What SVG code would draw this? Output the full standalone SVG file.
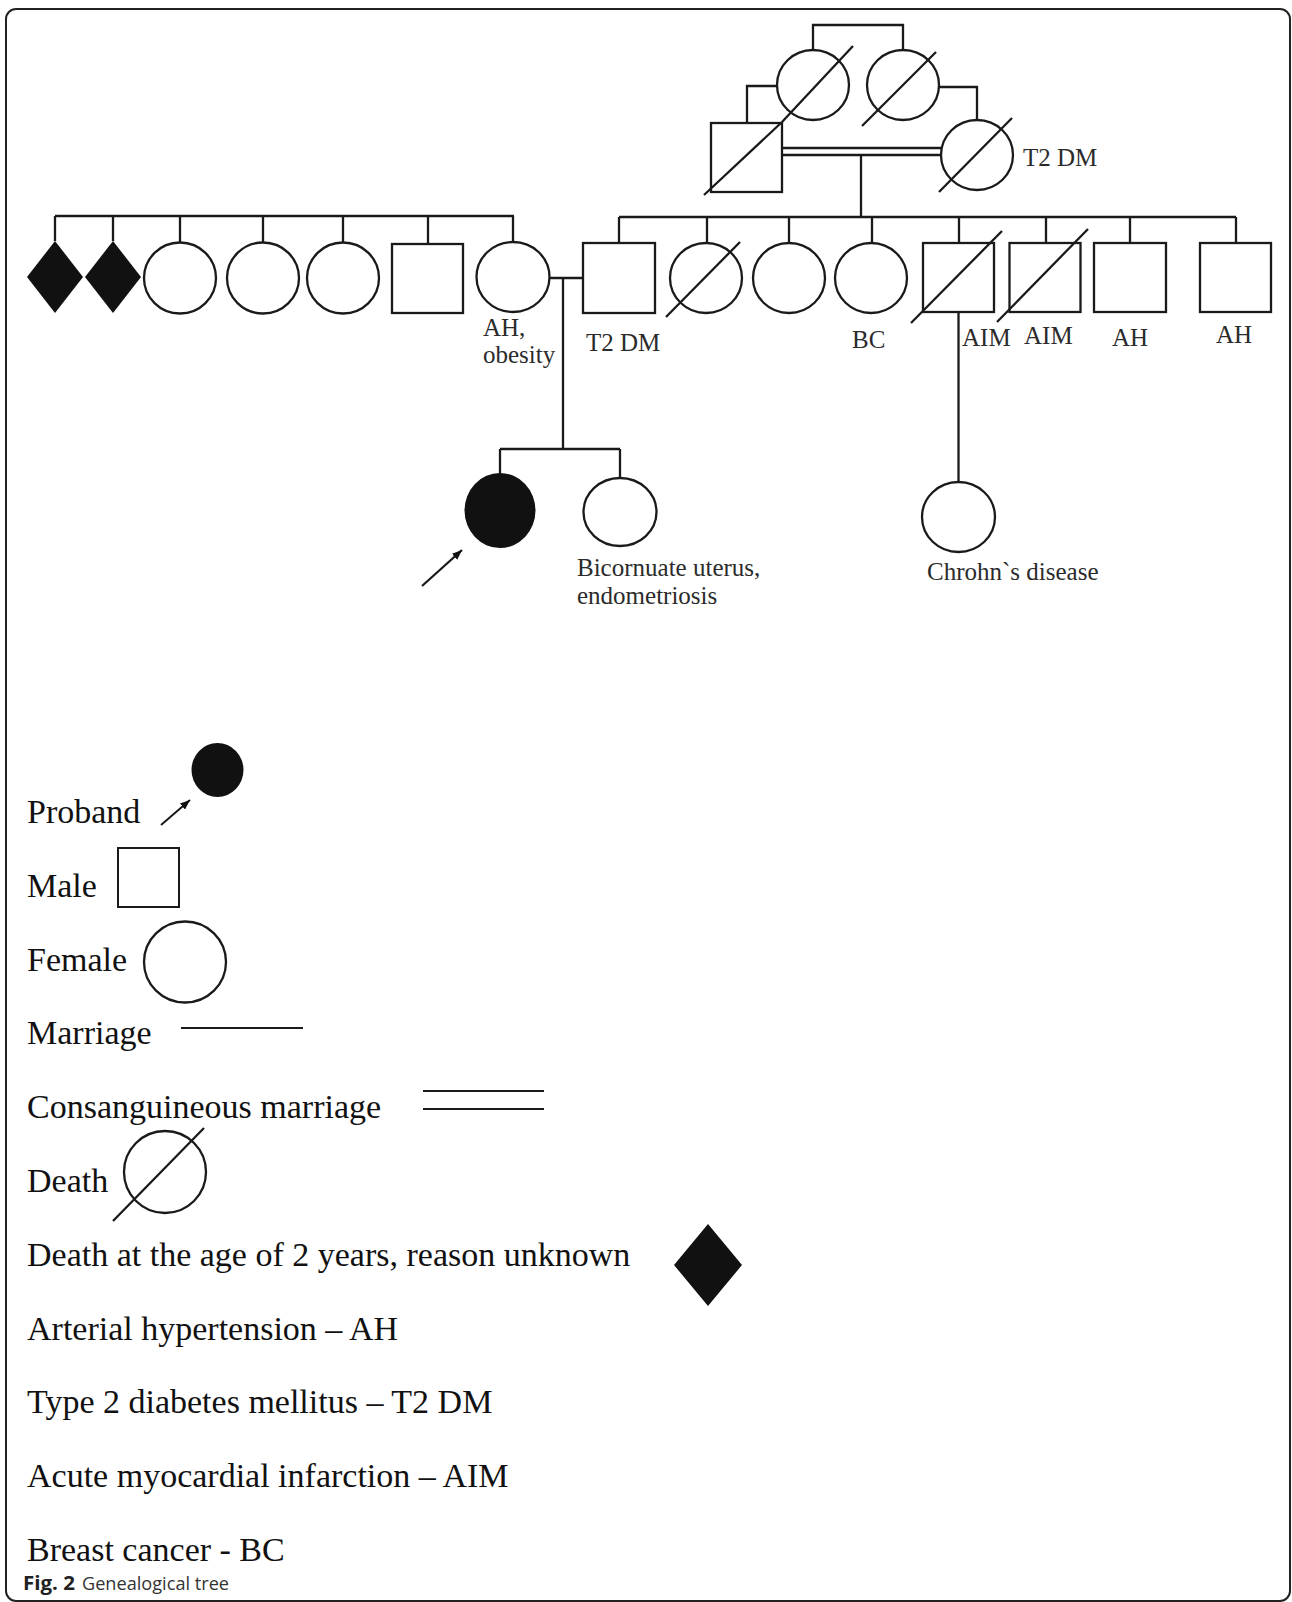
<svg xmlns="http://www.w3.org/2000/svg" width="1292" height="1602" viewBox="0 0 1292 1602">
<defs>
<style>
.ln{fill:none;stroke:#1a1a1a;stroke-width:2.3}
.nd{fill:#fff;stroke:#1a1a1a;stroke-width:2.3}
.fl{fill:#111;stroke:none}
.sl{stroke:#1a1a1a;stroke-width:2.3;fill:none}
.lb{font-family:"Liberation Serif","Times New Roman",serif;font-size:25px;fill:#2b2b2b}
.lg{font-family:"Liberation Serif","Times New Roman",serif;font-size:34px;fill:#111}
.lgl{fill:none;stroke:#1a1a1a;stroke-width:2}
</style>
<marker id="ah" markerUnits="userSpaceOnUse" markerWidth="12" markerHeight="10" refX="10" refY="4" orient="auto">
<path d="M0,0 L10,4 L0,8 Z" fill="#111"/>
</marker>
</defs>
<rect x="6" y="9" width="1284" height="1592" rx="10" fill="#fff" stroke="#222" stroke-width="2"/>

<g id="connectors">
<path class="ln" d="M813,50 V25 H903 V50"/>
<path class="ln" d="M777,86 H747 V123"/>
<path class="ln" d="M939,87 H977 V120"/>
<path class="ln" d="M782,148 H941 M782,155 H941"/>
<path class="ln" d="M861,155 V217"/>
<path class="ln" d="M619,217 H1236 M619,217 V243 M707,217 V243 M789,217 V243 M872,217 V243 M959,217 V243 M1046,217 V243 M1130,217 V243 M1236,217 V243"/>
<path class="ln" d="M55,216 H514 M55,216 V241 M113,216 V241 M180,216 V243 M263,216 V243 M343,216 V243 M428,216 V244 M513,216 V242"/>
<path class="ln" d="M549,278 H583"/>
<path class="ln" d="M563,278 V449 M500,449 H620 M500,449 V473 M620,449 V478"/>
<path class="ln" d="M958.5,312 V482"/>
<line class="sl" x1="422" y1="586" x2="462" y2="550" marker-end="url(#ah)"/>
</g>

<g id="I-1"><ellipse class="nd" cx="813" cy="85" rx="36" ry="35"/><line class="sl" x1="853" y1="46" x2="782" y2="122"/></g>
<g id="I-2"><ellipse class="nd" cx="903" cy="85" rx="36" ry="35"/><line class="sl" x1="936" y1="52" x2="862" y2="126"/></g>
<g id="II-1"><rect class="nd" x="711" y="123" width="71" height="69"/><line class="sl" x1="782" y1="122" x2="704" y2="195"/></g>
<g id="II-2"><ellipse class="nd" cx="977" cy="155" rx="36" ry="35"/><line class="sl" x1="1012" y1="118" x2="939" y2="192"/><text class="lb" x="1023" y="166">T2 DM</text></g>

<g id="III-1"><polygon class="fl" points="55,241 83,277 55,313 27,277"/></g>
<g id="III-2"><polygon class="fl" points="113,241 141,277 113,313 85,277"/></g>
<g id="III-3"><ellipse class="nd" cx="180" cy="278" rx="36" ry="35.5"/></g>
<g id="III-4"><ellipse class="nd" cx="263" cy="278" rx="36" ry="35.5"/></g>
<g id="III-5"><ellipse class="nd" cx="343" cy="278" rx="36" ry="35.5"/></g>
<g id="III-6"><rect class="nd" x="392" y="244" width="71" height="69"/></g>
<g id="III-7"><ellipse class="nd" cx="513" cy="277" rx="36.5" ry="35"/><text class="lb" x="483" y="336">AH,</text><text class="lb" x="483" y="363">obesity</text></g>
<g id="III-8"><rect class="nd" x="583" y="243" width="72" height="70"/><text class="lb" x="586" y="351">T2 DM</text></g>
<g id="III-9"><ellipse class="nd" cx="706" cy="278" rx="36" ry="35"/><line class="sl" x1="740" y1="242" x2="666" y2="317"/></g>
<g id="III-10"><ellipse class="nd" cx="789" cy="278" rx="36" ry="35"/></g>
<g id="III-11"><ellipse class="nd" cx="871" cy="278" rx="36" ry="35"/><text class="lb" x="852" y="348">BC</text></g>
<g id="III-12"><rect class="nd" x="923" y="243" width="71" height="69"/><line class="sl" x1="1002" y1="231" x2="911" y2="323"/><text class="lb" x="962" y="346">AIM</text></g>
<g id="III-13"><rect class="nd" x="1009.5" y="243" width="71" height="69"/><line class="sl" x1="1088" y1="229" x2="997" y2="322"/><text class="lb" x="1024" y="344">AIM</text></g>
<g id="III-14"><rect class="nd" x="1094" y="243" width="72" height="69"/><text class="lb" x="1112" y="346">AH</text></g>
<g id="III-15"><rect class="nd" x="1200" y="243" width="71" height="69"/><text class="lb" x="1216" y="343">AH</text></g>

<g id="IV-1"><ellipse class="fl" cx="500" cy="510.5" rx="35.5" ry="37.5"/></g>
<g id="IV-2"><ellipse class="nd" cx="620" cy="512" rx="36.5" ry="34"/><text class="lb" x="577" y="576">Bicornuate uterus,</text><text class="lb" x="577" y="604">endometriosis</text></g>
<g id="IV-3"><ellipse class="nd" cx="958.5" cy="517" rx="36.5" ry="35"/><text class="lb" x="927" y="580">Chrohn`s disease</text></g>

<g id="legend">
<text class="lg" x="27" y="823">Proband</text>
<line class="lgl" x1="161" y1="825" x2="190" y2="800" marker-end="url(#ah)"/>
<ellipse class="fl" cx="217.5" cy="770" rx="26" ry="27"/>
<text class="lg" x="27" y="897">Male</text>
<rect x="118" y="848" width="61" height="59" fill="#fff" stroke="#1a1a1a" stroke-width="2"/>
<text class="lg" x="27" y="971">Female</text>
<ellipse cx="185" cy="962" rx="41" ry="40.5" fill="#fff" stroke="#1a1a1a" stroke-width="2.3"/>
<text class="lg" x="27" y="1044">Marriage</text>
<line class="lgl" x1="181" y1="1028" x2="303" y2="1028"/>
<text class="lg" x="27" y="1118">Consanguineous marriage</text>
<line class="lgl" x1="423" y1="1091" x2="544" y2="1091"/>
<line class="lgl" x1="423" y1="1109" x2="544" y2="1109"/>
<text class="lg" x="27" y="1192">Death</text>
<ellipse cx="165" cy="1172" rx="41" ry="41" fill="none" stroke="#1a1a1a" stroke-width="2.3"/>
<line class="sl" x1="204" y1="1128" x2="113" y2="1221"/>
<text class="lg" x="27" y="1266">Death at the age of 2 years, reason unknown</text>
<polygon class="fl" points="708,1224 742,1265 708,1306 674,1265"/>
<text class="lg" x="27" y="1340">Arterial hypertension – AH</text>
<text class="lg" x="27" y="1413">Type 2 diabetes mellitus – T2 DM</text>
<text class="lg" x="27" y="1487">Acute myocardial infarction – AIM</text>
<text class="lg" x="27" y="1561">Breast cancer - BC</text>
</g>

<g id="caption">
<text x="23" y="1590" font-family="'Open Sans','Noto Sans',sans-serif" font-size="19" font-weight="bold" fill="#222" textLength="52" lengthAdjust="spacingAndGlyphs">Fig. 2</text>
<text x="82" y="1590" font-family="'Open Sans','Noto Sans',sans-serif" font-size="19" fill="#333" textLength="147" lengthAdjust="spacingAndGlyphs">Genealogical tree</text>
</g>
</svg>
